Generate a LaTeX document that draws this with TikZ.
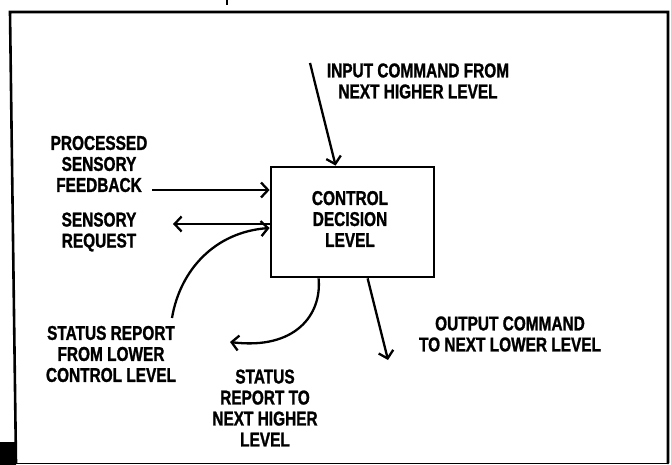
\documentclass[tikz,border=0pt]{standalone}
\usepackage{fontspec}
\setmainfont{Liberation Sans}[FakeStretch=0.77, BoldFeatures={FakeBold=1.2}]
\usetikzlibrary{arrows.meta,calc}
\begin{document}
\begin{tikzpicture}[x=1pt,y=-1pt,
  lab/.style={font=\bfseries\fontsize{20}{21}\selectfont, align=center, inner sep=0pt},
  arr/.style={line width=2.3pt, -{Straight Barb[length=7pt,width=15pt,line width=2.3pt]}},
  frameline/.style={line width=2.6pt, line cap=round},
  boxstyle/.style={draw, line width=2.8pt, minimum width=163pt, minimum height=110pt, inner sep=0pt}]
\useasboundingbox (0,0) rectangle (671,465);
% frame
\draw[frameline] (16,463) -- (10,12) -- (668,12) -- (668,463);
\draw[line width=1pt] (16,463) -- (668,463);
\draw[line width=1.2pt] (227,0) -- (227,5);
\fill (0,442) rectangle (16,465);
% central box
\node[boxstyle] (cdl) at (352.5,222) {};
\node[lab] (cdlt) at (350,219) {CONTROL\\DECISION\\LEVEL};
% labels
\node[lab] (intxt) at (418,81) {INPUT COMMAND FROM\\NEXT HIGHER LEVEL};
\node[lab] (pst) at (99,164) {PROCESSED\\SENSORY\\FEEDBACK};
\node[lab] (srq) at (99,232) {SENSORY\\REQUEST};
\node[lab] (slow) at (111,354) {STATUS REPORT\\FROM LOWER\\CONTROL LEVEL};
\node[lab] (shigh) at (265,408) {STATUS\\REPORT TO\\NEXT HIGHER\\LEVEL};
\node[lab] (outtxt) at (510,334) {OUTPUT COMMAND\\TO NEXT LOWER LEVEL};
% connector end points
\coordinate (ins) at (310,63);
\coordinate (fbs) at (152,190);
\coordinate (srt) at (173,224);
\coordinate (sls) at (172,318);
\coordinate (sht) at (230,342);
\coordinate (outt) at (388,360);
% connectors
\draw[arr] (ins) -- ([xshift=66pt]cdl.north west);
\draw[arr] (fbs) -- (cdl.west |- fbs);
\draw[arr] (cdl.west |- srt) -- (srt);
\draw[arr] (sls) .. controls (180,270) and (215,232) .. ([yshift=-6pt]cdl.west);
\draw[arr] ([xshift=49pt]cdl.south west) .. controls (322,315) and (295,350) .. (sht);
\draw[arr] ([xshift=98pt]cdl.south west) -- (outt);
\end{tikzpicture}
\end{document}
